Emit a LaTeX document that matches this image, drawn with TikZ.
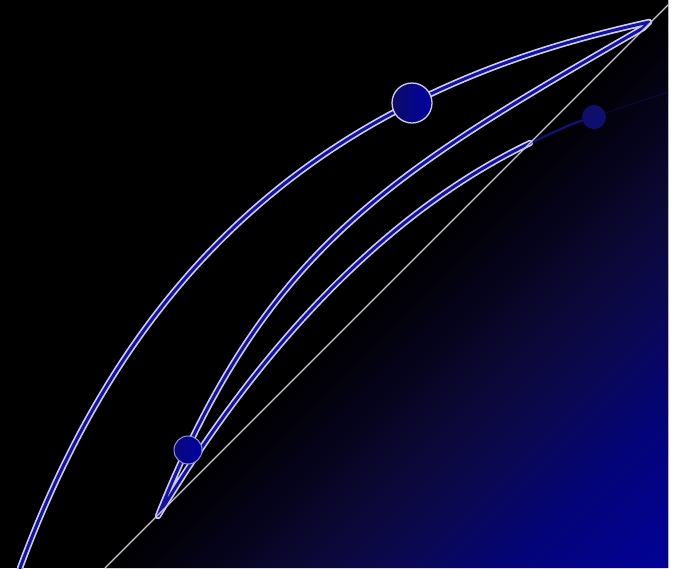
\documentclass[tikz,border=0pt]{standalone}
\usetikzlibrary{calc}
\definecolor{bandedge}{RGB}{205,205,232}
\definecolor{bandcore}{RGB}{18,18,170}
\definecolor{diagline}{RGB}{200,200,212}
\definecolor{gA}{RGB}{5,3,25}
\definecolor{gB}{RGB}{12,8,55}
\definecolor{gC}{RGB}{10,8,85}
\definecolor{gD}{RGB}{4,4,118}
\definecolor{gE}{RGB}{2,2,145}
\definecolor{gF}{RGB}{0,0,165}
\definecolor{gG}{RGB}{0,0,172}
\definecolor{framegray}{RGB}{175,175,190}
\definecolor{balldark}{RGB}{12,12,100}
\definecolor{ballbright}{RGB}{0,0,165}
\definecolor{ballmid}{RGB}{10,10,120}
\definecolor{dimblue}{RGB}{20,20,150}
\definecolor{tailblue}{RGB}{25,25,170}
% 50bp = diagonal (black), about 8bp = bottom-right corner (blue)
\pgfdeclareverticalshading{bluefade}{100bp}{color(0bp)=(gG); color(8bp)=(gF); color(17bp)=(gE); color(25bp)=(gD); color(31bp)=(gC); color(37.4bp)=(gB); color(43.7bp)=(gA); color(50bp)=(black); color(100bp)=(black)}
\tikzset{
  band/.style={draw=bandedge, line width=1.7pt, double=bandcore, double distance=3pt, line cap=round, line join=round},
  bigball/.style={circle, minimum size=40pt, inner sep=0pt, draw=bandedge, line width=1.3pt, left color=balldark, right color=ballbright},
  smallball/.style={circle, minimum size=28pt, inner sep=0pt, draw=bandedge!70!bandcore, line width=1pt, left color=ballmid, right color=ballbright},
  dimball/.style={circle, minimum size=24pt, inner sep=0pt, fill=dimblue, opacity=0.7},
}
\begin{document}
\begin{tikzpicture}[x=1pt, y=-1pt]
\useasboundingbox (0,0) rectangle (682,568);
% background
\fill[black] (0,0) rectangle (668,568);
\fill[white] (668,0) rectangle (682,568);
% gradient region below the diagonal
\coordinate (dlow) at (105,568);
\coordinate (dhigh) at (668,5);
\coordinate (corner) at (668,568);
\begin{scope}
  \clip (dlow) -- (dhigh) -- (corner) -- cycle;
  \shade[shading=bluefade, shading angle=45] (105,5) rectangle (668,568);
\end{scope}
% right frame line
\draw[framegray, line width=1pt] (668,0) -- (668,568);
% named points
\coordinate (start) at (20,568);
\coordinate (tip) at (649,22);
\coordinate (turn) at (643,28);
\coordinate (base) at (158,516);
\coordinate (cross) at (530,143);
\coordinate (p1) at (412,103);
% curves
\draw[band] (start) .. controls (94,368) and (212,203) .. (p1)
            .. controls (492,63) and (568,40) .. (tip) -- (turn)
            .. controls (393,172) and (266,246) .. (base)
            .. controls (254,356) and (380,215) .. (cross);
% faded tail under the shaded region
\node[dimball] (b3) at (594,117) {};
\draw[tailblue, line width=2.2pt, opacity=0.7, line cap=round] (cross) .. controls (555,132) and (570,124) .. (b3);
\coordinate (edge) at (668,92);
\draw[tailblue, line width=1.5pt, opacity=0.22] (b3) -- (edge);
% diagonal
\draw[diagline, line width=1.1pt] (dlow) -- (dhigh);
% balls
\node[bigball] (b1) at (p1) {};
\node[smallball] (b2) at (188,450) {};
\end{tikzpicture}
\end{document}
